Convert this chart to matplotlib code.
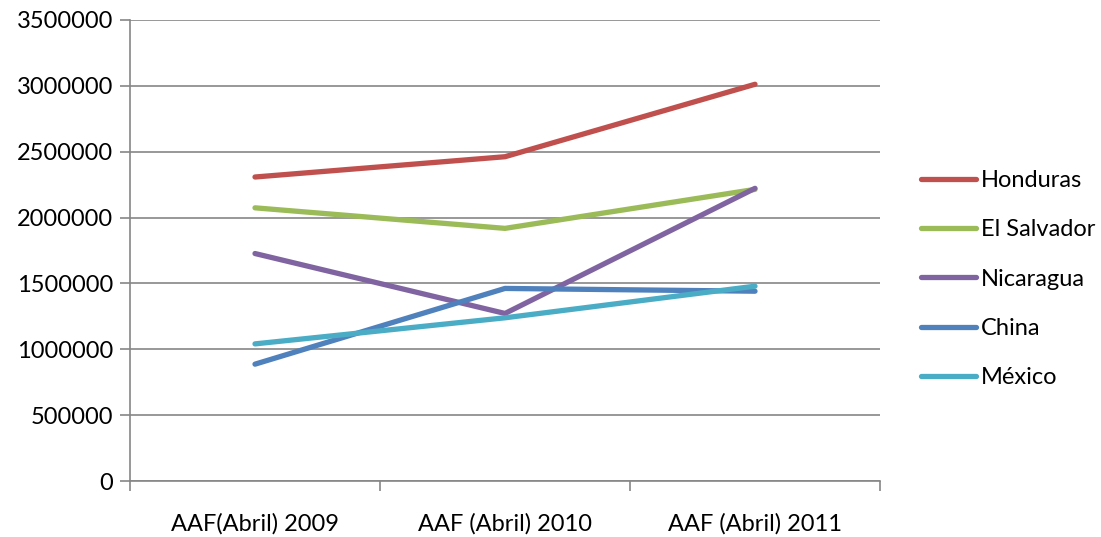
import numpy as np
import matplotlib.pyplot as plt
from matplotlib.ticker import FixedLocator, StrMethodFormatter

plt.rcParams['font.family'] = ['Lato', 'DejaVu Sans']

periodos = ["AAF(Abril) 2009", "AAF (Abril) 2010", "AAF (Abril) 2011"]
honduras = [2308000, 2462000, 3012000]
el_salvador = [2074000, 1918000, 2214000]
nicaragua = [1727000, 1272000, 2222000]
china = [887000, 1462000, 1441000]
mexico = [1041000, 1239000, 1479000]

series = [
    ("Honduras", honduras, "#C0504D"),
    ("El Salvador", el_salvador, "#9BBB59"),
    ("Nicaragua", nicaragua, "#8064A2"),
    ("China", china, "#4F81BD"),
    ("México", mexico, "#4BACC6"),
]

fig = plt.figure(figsize=(11.01, 5.37), dpi=100)
ax = fig.add_axes([130/1101, 1 - 481/537, 750/1101, 461/537])

x = np.arange(len(periodos))
for nombre, vals, color in series:
    ax.plot(x, vals, color=color, lw=3.8, solid_capstyle='round', label=nombre)

ax.set_xlim(-0.5, len(periodos) - 0.5)
ax.set_ylim(0, 3500000)
ax.set_yticks(np.arange(0, 3500001, 500000))
ax.yaxis.set_major_formatter(StrMethodFormatter("{x:.0f}"))
ax.yaxis.grid(True, color="#868686", lw=1.2)
ax.set_axisbelow(True)

ax.set_xticks(x)
ax.set_xticklabels(periodos)
ax.xaxis.set_minor_locator(FixedLocator(np.arange(-0.5, len(periodos), 1.0)))
ax.tick_params(axis='x', which='major', length=0, pad=23, labelsize=17)
ax.tick_params(axis='x', which='minor', length=7, width=1.2, color="#868686", direction='out')
ax.tick_params(axis='y', length=7, width=1.2, color="#868686", pad=5, labelsize=17)

for s in ['top', 'right']:
    ax.spines[s].set_visible(False)
for s in ['left', 'bottom']:
    ax.spines[s].set_color("#868686")
    ax.spines[s].set_linewidth(1.2)

ax.legend(loc='center left', bbox_to_anchor=(1.027, 0.438), frameon=False,
          fontsize=17, handlelength=2.3, handletextpad=0.2, labelspacing=1.2)

fig.savefig("out.png", dpi=100)
